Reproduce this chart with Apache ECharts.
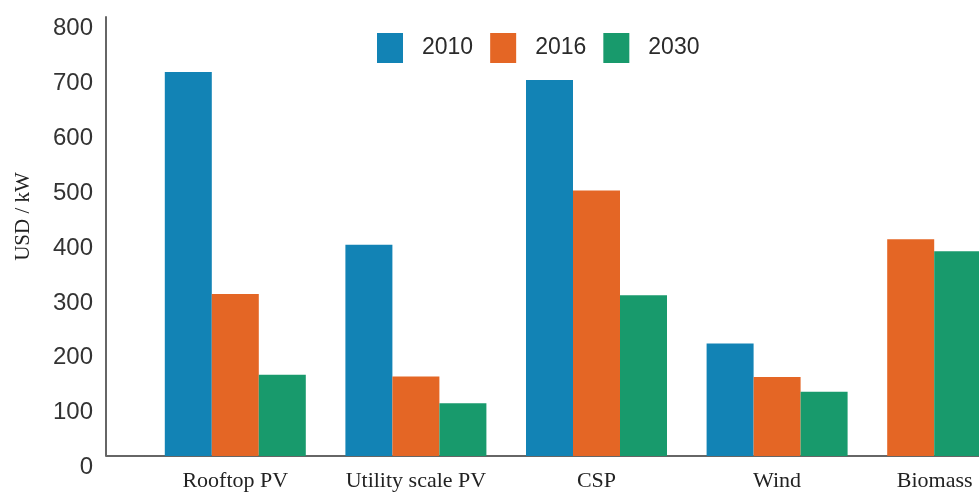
<!DOCTYPE html>
<html>
<head>
<meta charset="utf-8">
<script src="https://cdn.jsdelivr.net/npm/echarts@6/dist/echarts.min.js"></script>
<style>
  html, body { margin: 0; padding: 0; background: #fff; }
  #main { width: 979px; height: 492px; }
</style>
</head>
<body>
<div id="main"></div>
<script>
  // data (USD / kW)
  var categories = ["Rooftop PV", "Utility scale PV", "CSP", "Wind", "Biomass"];
  var years = ["2010", "2016", "2030"];
  var cost2010 = [700, 385, 685, 205, null];
  var cost2016 = [295, 145, 484, 144, 395];
  var cost2030 = [148, 96, 293, 117, 373];
  var yTicks = [0, 100, 200, 300, 400, 500, 600, 700, 800];

  var colors = ["#1283b5", "#e46625", "#189a6c"];
  var GRID_LEFT = 145, Y_OFFSET = 39;

  // where 2010 is missing the remaining bars are drawn left-aligned in the group
  var missing = cost2010.map(function (v) { return v == null; });
  function keep(arr) { return arr.map(function (v, i) { return missing[i] ? null : v; }); }
  function moved(arr) { return arr.map(function (v, i) { return missing[i] ? v : null; }); }

  // the label of a shortened group sits under its bars
  var xLabels = categories.map(function (c, i) {
    return missing[i] ? { value: c, textStyle: { padding: [0, 46, 0, 0] } } : c;
  });

  var chart = echarts.init(document.getElementById("main"));

  var barBase = { type: "bar", barWidth: 47, barGap: "0%" };

  chart.setOption({
    animation: false,
    color: colors,
    legend: {
      data: years,
      left: 372,
      top: 28,
      itemWidth: 26,
      itemHeight: 30,
      itemGap: 17,
      icon: "rect",
      textStyle: { fontFamily: "Liberation Sans", fontSize: 23, color: "#2a2a2a", padding: [0, 0, 0, 14] }
    },
    // the last group runs off the right edge, as in the source picture
    grid: { left: GRID_LEFT, width: 903, top: 17, height: 439, outerBoundsMode: "none", containLabel: false },
    xAxis: [
      {
        type: "category",
        data: xLabels,
        axisLine: { lineStyle: { color: "#666", width: 2 } },
        axisTick: { show: false },
        axisLabel: { interval: 0, fontFamily: "Liberation Serif", fontSize: 22, color: "#222", margin: 14 }
      },
      { type: "category", data: categories, show: false }
    ],
    yAxis: {
      type: "value",
      min: yTicks[0],
      max: yTicks[yTicks.length - 1],
      interval: 100,
      offset: Y_OFFSET,
      name: "USD / kW",
      nameLocation: "middle",
      nameGap: 72,
      nameTextStyle: { fontFamily: "Liberation Serif", fontSize: 21, color: "#222", padding: [0, 0, 0, 40] },
      axisLine: { show: true, lineStyle: { color: "#666", width: 2 } },
      axisTick: { show: false },
      splitLine: { show: false },
      axisLabel: {
        fontFamily: "Liberation Sans",
        fontSize: 24,
        color: "#333",
        margin: 13,
        verticalAlign: "top",
        lineHeight: 23
      }
    },
    series: [
      Object.assign({ name: "2010", data: keep(cost2010) }, barBase),
      Object.assign({ name: "2016", data: keep(cost2016) }, barBase),
      Object.assign({ name: "2030", data: keep(cost2030) }, barBase),
      Object.assign({ name: "2016", xAxisIndex: 1, data: moved(cost2016), itemStyle: { color: colors[1] } }, barBase),
      Object.assign({ name: "2030", xAxisIndex: 1, data: moved(cost2030), itemStyle: { color: colors[2] } }, barBase),
      Object.assign({ name: "", xAxisIndex: 1, data: categories.map(function () { return null; }) }, barBase)
    ]
  });

  // x axis line continues left to the offset y axis
  var y0 = chart.convertToPixel({ yAxisIndex: 0 }, 0);
  chart.setOption({
    graphic: [{
      type: "line",
      shape: { x1: GRID_LEFT - Y_OFFSET, y1: y0, x2: GRID_LEFT, y2: y0 },
      style: { stroke: "#666", lineWidth: 2 }
    }]
  });
</script>
</body>
</html>
